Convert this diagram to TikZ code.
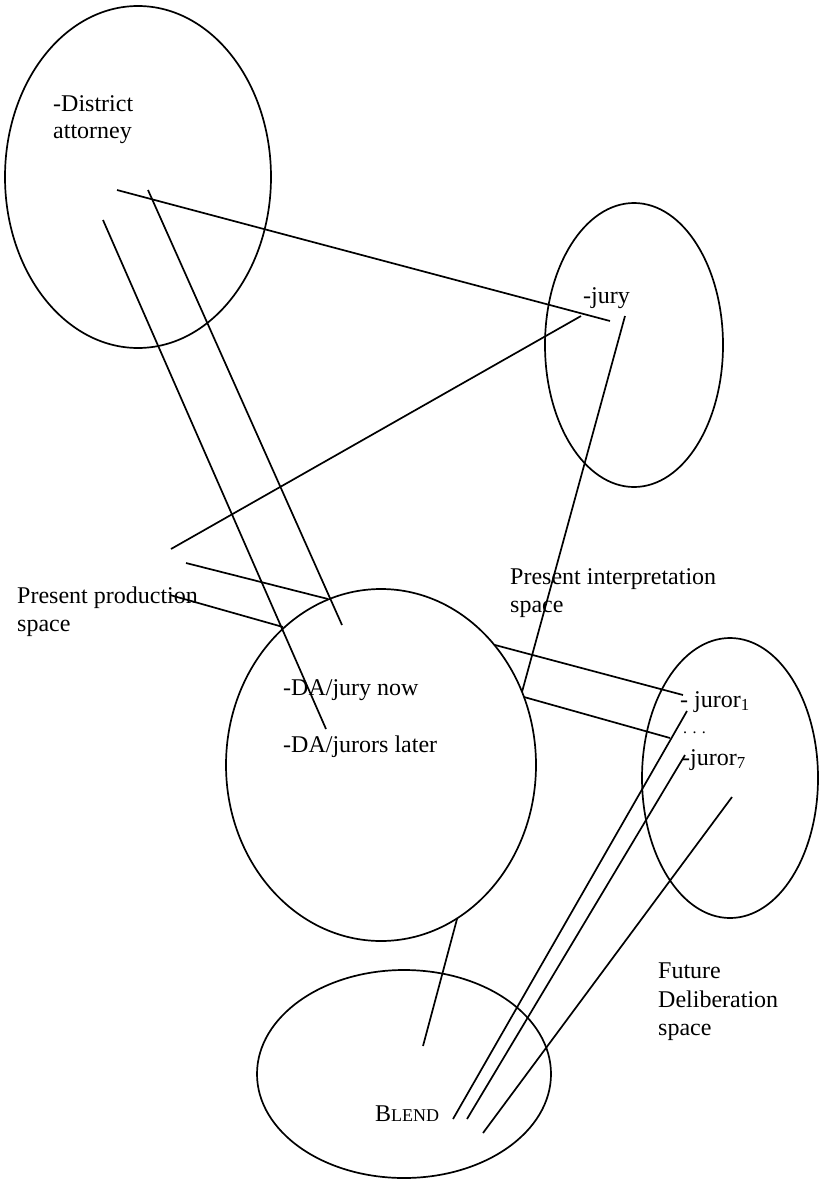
\documentclass[tikz,border=0pt]{standalone}
\usepackage{fontspec}
\setmainfont{Liberation Serif}
\usetikzlibrary{shapes.geometric}
\begin{document}
\begin{tikzpicture}[x=1pt,y=-1pt,
  space/.style={draw, ellipse, line width=1.7pt, inner sep=0pt},
  conn/.style={line width=1.7pt},
  lbl/.style={anchor=base west, inner sep=0pt, font=\fontsize{24}{27.5}\selectfont}]
\useasboundingbox (0,0) rectangle (819,1180);
% spaces
\node[space, minimum width=266pt, minimum height=342pt] (da) at (138,177) {};
\node[space, minimum width=178pt, minimum height=284pt] (jury) at (634,345) {};
\node[space, minimum width=310pt, minimum height=352pt] (mid) at (381,765) {};
\node[space, minimum width=176pt, minimum height=280pt] (fut) at (730,778) {};
\node[space, minimum width=294pt, minimum height=208pt] (blend) at (404,1074) {};
% labels
\node[lbl] (t1) at (53,112) {-District};
\node[lbl] (t2) at (53,139) {attorney};
\node[lbl] (t3) at (583,303) {-jury};
\node[lbl] (t4) at (17,603) {Present production};
\node[lbl] (t5) at (17,631) {space};
\node[lbl] (t6) at (510,584) {Present interpretation};
\node[lbl] (t7) at (510,612) {space};
\node[lbl] (t8) at (283,695) {-DA/jury now};
\node[lbl] (t9) at (283,752) {-DA/jurors later};
\node[lbl] (t10) at (680,707) {- juror\textsubscript{1}};
\node[lbl, font=\fontsize{16}{16}\selectfont] (t11) at (683,733) {. . .};
\node[lbl] (t12) at (682,765) {-juror\textsubscript{7}};
\node[lbl] (t13) at (658,978) {Future};
\node[lbl] (t14) at (658,1007) {Deliberation};
\node[lbl] (t15) at (658,1035) {space};
\node[lbl] (t16) at (375,1121) {B{\fontsize{18}{18}\selectfont LEND}};
% connector end points
\coordinate (a1) at (117,190); \coordinate (b1) at (610,321);
\coordinate (a2) at (148,190); \coordinate (b2) at (342,625);
\coordinate (a3) at (103,220); \coordinate (b3) at (326,729);
\coordinate (a4) at (171,549); \coordinate (b4) at (581,316);
\coordinate (a5) at (186,563); \coordinate (b5) at (328,599);
\coordinate (a6) at (170,595); \coordinate (b6) at (283,627);
\coordinate (a7) at (625,316); \coordinate (b7) at (522,692);
\coordinate (a8) at (495,645); \coordinate (b8) at (683,695);
\coordinate (a9) at (524,697); \coordinate (b9) at (670,738);
\coordinate (a10) at (687,711); \coordinate (b10) at (453,1119);
\coordinate (a11) at (685,755); \coordinate (b11) at (467,1119);
\coordinate (a12) at (732,797); \coordinate (b12) at (483,1133);
\coordinate (a13) at (457,919); \coordinate (b13) at (423,1046);
% connectors
\draw[conn] (a1) -- (b1);
\draw[conn] (a2) -- (b2);
\draw[conn] (a3) -- (b3);
\draw[conn] (a4) -- (b4);
\draw[conn] (a5) -- (b5);
\draw[conn] (a6) -- (b6);
\draw[conn] (a7) -- (b7);
\draw[conn] (a8) -- (b8);
\draw[conn] (a9) -- (b9);
\draw[conn] (a10) -- (b10);
\draw[conn] (a11) -- (b11);
\draw[conn] (a12) -- (b12);
\draw[conn] (a13) -- (b13);
\end{tikzpicture}
\end{document}
